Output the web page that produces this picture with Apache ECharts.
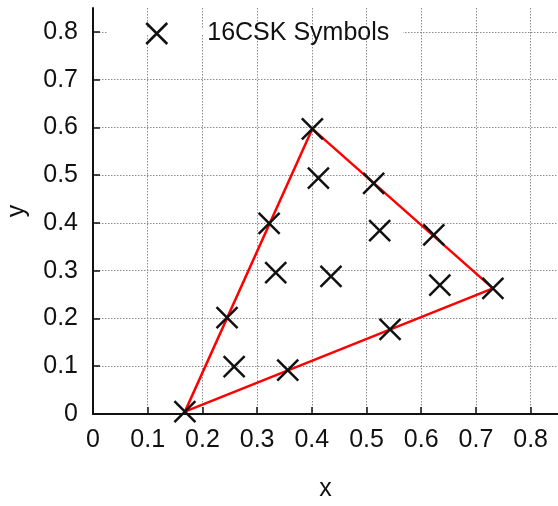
<!DOCTYPE html>
<html>
<head>
<meta charset="utf-8">
<script src="https://cdn.jsdelivr.net/npm/echarts@6/dist/echarts.min.js"></script>
<style>html,body{margin:0;padding:0;background:#fff;}#c{width:558px;height:506px;}</style>
</head>
<body>
<div id="c"></div>
<script>
const symbolX = [0.168, 0.245, 0.258, 0.322, 0.334, 0.356, 0.401, 0.412, 0.435, 0.513, 0.524, 0.543, 0.623, 0.634, 0.731];
const symbolY = [0.005, 0.202, 0.099, 0.399, 0.296, 0.092, 0.597, 0.494, 0.288, 0.483, 0.384, 0.177, 0.375, 0.270, 0.263];
const triangleX = [0.168, 0.401, 0.731, 0.168];
const triangleY = [0.005, 0.597, 0.263, 0.005];
const tickValues = [0, 0.1, 0.2, 0.3, 0.4, 0.5, 0.6, 0.7, 0.8];
const seriesName = '16CSK Symbols';

const FONT = 'Liberation Sans';
const FS = 25;
const xMark = 'path://M0,0L10,10M10,0L0,10';
const gridColors = tickValues.map(() => '#8c8c8c').concat(['rgba(0,0,0,0)']);

const chart = echarts.init(document.getElementById('c'), null, {renderer: 'canvas'});
function axis(name, nameGap, rotate) {
  return {
    type: 'value', min: 0, max: 0.85, interval: 0.1,
    name: name, nameLocation: 'middle', nameGap: nameGap, nameRotate: rotate,
    nameTextStyle: {fontFamily: FONT, fontSize: FS, color: '#111'},
    axisLine: {show: true, onZero: false, lineStyle: {color: '#111', width: 2}},
    axisTick: {show: true, inside: true, length: 7, customValues: tickValues, lineStyle: {color: '#111', width: 1.5}},
    axisLabel: {fontFamily: FONT, fontSize: FS, color: '#111', margin: 14, customValues: tickValues,
      formatter: v => String(Math.round(v * 10) / 10)},
    splitLine: {show: true, lineStyle: {color: gridColors, width: 1, type: [1.5, 1.5]}}
  };
}
const xa = axis('x', 63, 0);
const ya = axis('y', 63, 90);
ya.axisLabel.margin = 15;

chart.setOption({
  animation: false,
  backgroundColor: '#fff',
  grid: {left: 93, right: 0, top: 8, bottom: 92, containLabel: false, outerBoundsMode: 'none'},
  xAxis: xa,
  yAxis: ya,
  legend: {
    data: [seriesName], left: 145, top: 21, padding: 0,
    itemWidth: 21, itemHeight: 21,
    icon: xMark,
    itemStyle: {color: 'rgba(0,0,0,0)', borderColor: '#111', borderWidth: 2.5},
    textStyle: {fontFamily: FONT, fontSize: FS, color: '#111', padding: [0, 0, 0, 35]}
  },
  graphic: [{type: 'rect', z: 1, silent: true, shape: {x: 107, y: 29, width: 296, height: 6}, style: {fill: '#fff'}}],
  series: [
    {
      type: 'line', name: 'triangle', data: triangleX.map((x, i) => [x, triangleY[i]]),
      showSymbol: false, symbol: 'none', lineStyle: {color: '#ff0000', width: 2.5}, z: 2
    },
    {
      type: 'scatter', name: seriesName, data: symbolX.map((x, i) => [x, symbolY[i]]),
      symbol: xMark, symbolSize: 21,
      itemStyle: {color: 'rgba(0,0,0,0)', borderColor: '#111', borderWidth: 2.5, opacity: 1}, z: 3
    }
  ]
});
</script>
</body>
</html>
